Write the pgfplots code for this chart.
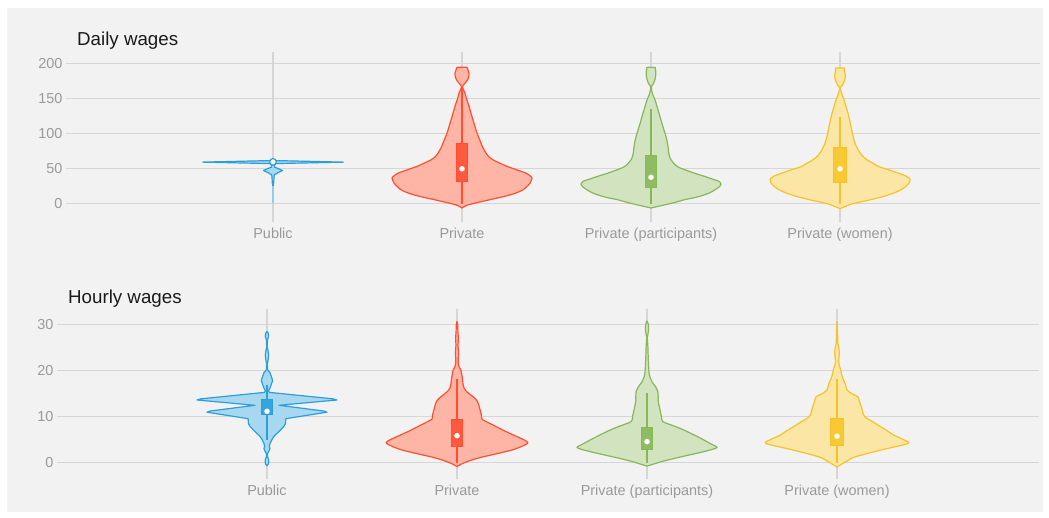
\documentclass[border=0pt]{standalone}
\usepackage{pgfplots}
\usepackage{pgfplotstable}
\pgfplotsset{compat=1.18}
\usepgfplotslibrary{fillbetween}
\usepackage{fontspec}
\setmainfont{Liberation Sans}

\definecolor{bgc}{HTML}{F2F2F2}
\definecolor{gridc}{HTML}{D6D6D6}
\definecolor{tickc}{HTML}{9A9A9A}
\definecolor{titc}{HTML}{1A1A1A}
\definecolor{bS}{HTML}{2A9FDA}\definecolor{bF}{HTML}{A8D8F0}\definecolor{bB}{HTML}{35A5DD}\definecolor{bW}{HTML}{8ECDEC}
\definecolor{rS}{HTML}{FF4F30}\definecolor{rF}{HTML}{FFB5A6}\definecolor{rB}{HTML}{FF5A3D}
\definecolor{gS}{HTML}{88B758}\definecolor{gF}{HTML}{D1E3BF}\definecolor{gB}{HTML}{8FBC62}
\definecolor{yS}{HTML}{F6C228}\definecolor{yF}{HTML}{FCE6A6}\definecolor{yB}{HTML}{F8C933}

% ---- Daily wages: violin outlines (v = value, w = half width in px)
\pgfplotstableread{
v w
24.8 0
30 0.7
38 1.0
41.4 1.3
44.5 5
47.6 9.5
50.5 5
52.4 1.5
55 1.5
57.5 2.5
59.6 70.5
61.8 2.5
62.2 0
}\PubD
\pgfplotstableread{
v w
-6 0
-2 5
0 10
5 25
10.5 42
15 53
20 61
25 65
29.5 68
36.7 70
40 68
43.8 64
48 56
53 46
58 38
62.9 31
67 27
72.4 24
80 21
86.7 19
94 17
101 15
108 13.5
115 12
122 10.5
129.5 9
137 7.5
143.8 6
150 4.5
158 3
163 1.5
167.5 0.4
170 1.5
176 5
182 6.8
187 7
191 6
195 5
195 0
}\PriD
\pgfplotstableread{
v w
-6 0
-4 6
-1.4 14
2 24
5.7 33
10 47
15.2 58
20 64
24 68
28 70
32 68
36 60
39 54
43 45
46 39
48.6 34
52 28
56 24
62.9 20
67.6 18.5
75 17.5
81.9 17
90 16
96 15
103 13.5
110 12
117 10.5
124.7 9
132 7.5
139 6
148.6 4
155 2
160 1
166 0.3
168 0.5
172 2.5
178 4
184 4.7
189 4.8
193 4.3
195 4.3
195 0
}\ParD
\pgfplotstableread{
v w
-7 0
-4 5
0 12
5 28
10 42
15 53
20 61
25 66
30 69
35 70
39 67
43 60
48 50
53 39
58 33
62 28
67.6 23
75 19
83 16
91 14
100 12.5
110 11
120 9.5
129.5 8
139 6
148.6 4
156 2
163 0.5
166 0.4
170 2.5
176 4.5
182 5.3
187 5
191 4.5
194 4.3
194 0
}\WomD

% ---- Hourly wages
\pgfplotstableread{
v w
-0.6 0
-0.2 1.5
0.3 1.8
0.9 1.5
1.3 0.5
2.0 0.6
2.6 2
3.1 3
3.6 2.3
4.2 3
5.3 5.5
6.0 8
6.4 10
7.0 13
7.8 16.5
8.5 18.5
9.3 18.7
9.6 19
11.0 60
11.25 57
12.5 12
13.65 70
13.9 66
15.3 2.5
15.6 1.5
16.2 3
17.9 5.7
19.6 3
20.2 0.5
21.5 0.4
22.2 1.0
23.3 1.7
24.5 1.0
25 0.3
26.7 0.5
27.5 1.7
28.3 1.0
28.5 0
}\PubH
\pgfplotstableread{
v w
-0.8 0
-0.2 5
0.5 13
1.2 24
2.0 40
2.8 55
3.6 65
4.35 71
5.0 67
6.0 57
7.0 47
8.0 38
9.0 29
9.5 25
10.3 24.5
11.2 23.5
12.0 22.5
12.8 21.5
13.5 20
14.2 17
14.8 13.5
15.5 9.5
16.3 7
17.2 6
18.2 5.5
19.2 4.8
20.2 3.8
20.8 2.2
21.5 1.3
22.5 1.2
24 1.6
25.5 1.0
27 1.4
28.5 0.9
30 0.7
30.7 0
}\PriH
\pgfplotstableread{
v w
-0.7 0
-0.3 6
0.3 15
1.0 28
1.7 42
2.5 58
3.3 70
4.0 65
5.3 54
6.5 43
7.5 33
8.4 22
9.0 15.5
10.2 14.3
11.5 13
12.5 12
13.3 11.3
14.5 11.2
15.4 11
16.5 8.7
17.5 5.3
18.6 3
19.6 2
21 1.6
23 1.2
25.6 0.8
27.3 0.3
27.8 0.8
28.7 1.5
29.5 1.6
30.3 1.0
30.8 0
}\ParH
\pgfplotstableread{
v w
-0.9 0
-0.1 6
0.4 10
1.3 18
2.8 44
4.2 71
5.0 67
6.0 57
7.0 50
7.8 44
8.9 36
10.0 27.7
11.2 25.5
12.2 24.3
13.3 22.5
14.3 21
15.0 15
15.8 10
17.0 8.5
18.0 6.5
19.0 4.8
20.2 3.7
21.0 2.5
22.0 1.5
23.0 2.0
24.1 2.3
25.0 1.8
26.0 0.8
28.0 0.6
30.7 0
}\WomH

% #1 table, #2 position, #3 px per unit, #4 stroke, #5 fill, #6 id, #7 extra path style
\newcommand\violin[7]{%
  \addplot[draw=none, name path=R#6, #7] table[x expr=#2+\thisrow{w}/#3, y=v]{#1};
  \addplot[draw=none, name path=L#6, #7] table[x expr=#2-\thisrow{w}/#3, y=v]{#1};
  \addplot[fill=#5, draw=none] fill between[of=R#6 and L#6];
  \addplot[draw=#4, line width=1.2bp, line join=round, #7] table[x expr=#2+\thisrow{w}/#3, y=v]{#1};
  \addplot[draw=#4, line width=1.2bp, line join=round, #7] table[x expr=#2-\thisrow{w}/#3, y=v]{#1};
}
% #1 pos, #2 half width, #3 q1, #4 q3, #5 fill, #6 stroke
\newcommand\vbx[6]{%
  \addplot[fill=#5, draw=#6, line width=1bp] coordinates {(#1-#2,#3) (#1+#2,#3) (#1+#2,#4) (#1-#2,#4)} --cycle;
}

\pgfplotsset{vio/.style={
  scale only axis,
  axis line style={draw=none},
  major tick length=0pt,
  xtick={1,2,3,4},
  xticklabels={Public,Private,Private (participants),Private (women)},
  xmajorgrids, ymajorgrids,
  grid style={draw=gridc, line width=1.1bp},
  ticklabel style={text=tickc, font=\fontsize{14.5}{17}\selectfont},
  xticklabel style={text height=10.5bp, text depth=3bp, yshift=-2bp},
  /pgf/number format/assume math mode=true,
}}
\tikzset{sm/.style={smooth, tension=0.45}}

\pagecolor{bgc}
\begin{document}
\begin{tikzpicture}
\fill[white, even odd rule] (0,0) rectangle (1049bp,-518bp) (7bp,-8bp) rectangle (1043bp,-512bp);
\node[anchor=base west, text=titc, font=\fontsize{18.8}{22}\selectfont, inner sep=0pt] at (77bp,-45.7bp) {Daily wages};
\node[anchor=base west, text=titc, font=\fontsize{18.8}{22}\selectfont, inner sep=0pt] at (68bp,-303.3bp) {Hourly wages};

\begin{axis}[vio, at={(66bp,-222bp)}, anchor=south west, width=974bp, height=170bp,
  xmin=-0.0952, xmax=5.058, ymin=-26, ymax=217, ytick={0,50,100,150,200}]
  \violin{\PubD}{1}{189}{bS}{bF}{a}{}
  \violin{\PriD}{2}{189}{rS}{rF}{b}{sm}
  \violin{\ParD}{3}{189}{gS}{gF}{c}{sm}
  \violin{\WomD}{4}{189}{yS}{yF}{d}{sm}
  \addplot[draw=bW, line width=1.2bp] coordinates {(1,1) (1,25)};
  \addplot[draw=rS, line width=1.2bp] coordinates {(2,0) (2,165)};
  \addplot[draw=gS, line width=1.2bp] coordinates {(3,0) (3,135)};
  \addplot[draw=yS, line width=1.2bp] coordinates {(4,0) (4,124)};
  \vbx{2}{0.030}{31.9}{86.7}{rB}{rS}
  \vbx{3}{0.030}{23}{69}{gB}{gS}
  \vbx{4}{0.032}{30.5}{80.5}{yB}{yS}
  \addplot[only marks, mark=*, mark size=3.3bp, mark options={fill=white, draw=bS, line width=1.2bp}] coordinates {(1,60)};
  \addplot[only marks, mark=*, mark size=2.5bp, mark options={fill=white, draw=white}] coordinates {(2,50) (3,38) (4,50)};
\end{axis}

\begin{axis}[vio, at={(57bp,-479bp)}, anchor=south west, width=982bp, height=170bp,
  xmin=-0.105, xmax=5.063, ymin=-3.5, ymax=33.4, ytick={0,10,20,30}]
  \violin{\PubH}{1}{190}{bS}{bF}{e}{}
  \violin{\PriH}{2}{190}{rS}{rF}{f}{sm}
  \violin{\ParH}{3}{190}{gS}{gF}{g}{sm}
  \violin{\WomH}{4}{190}{yS}{yF}{h}{sm}
  \addplot[draw=bS, line width=1.2bp] coordinates {(1,5) (1,17)};
  \addplot[draw=rS, line width=1.2bp] coordinates {(2,0) (2,18.3)};
  \addplot[draw=gS, line width=1.2bp] coordinates {(3,0) (3,15.1)};
  \addplot[draw=yS, line width=1.2bp] coordinates {(4,0) (4,18.3)};
  \vbx{1}{0.031}{10.4}{13.8}{bB}{bS}
  \vbx{2}{0.030}{3.6}{9.5}{rB}{rS}
  \vbx{3}{0.030}{2.8}{7.6}{gB}{gS}
  \vbx{4}{0.032}{3.7}{9.7}{yB}{yS}
  \addplot[only marks, mark=*, mark size=2.5bp, mark options={fill=white, draw=white}] coordinates {(1,11.2) (2,5.9) (3,4.6) (4,5.8)};
\end{axis}
\end{tikzpicture}
\end{document}
